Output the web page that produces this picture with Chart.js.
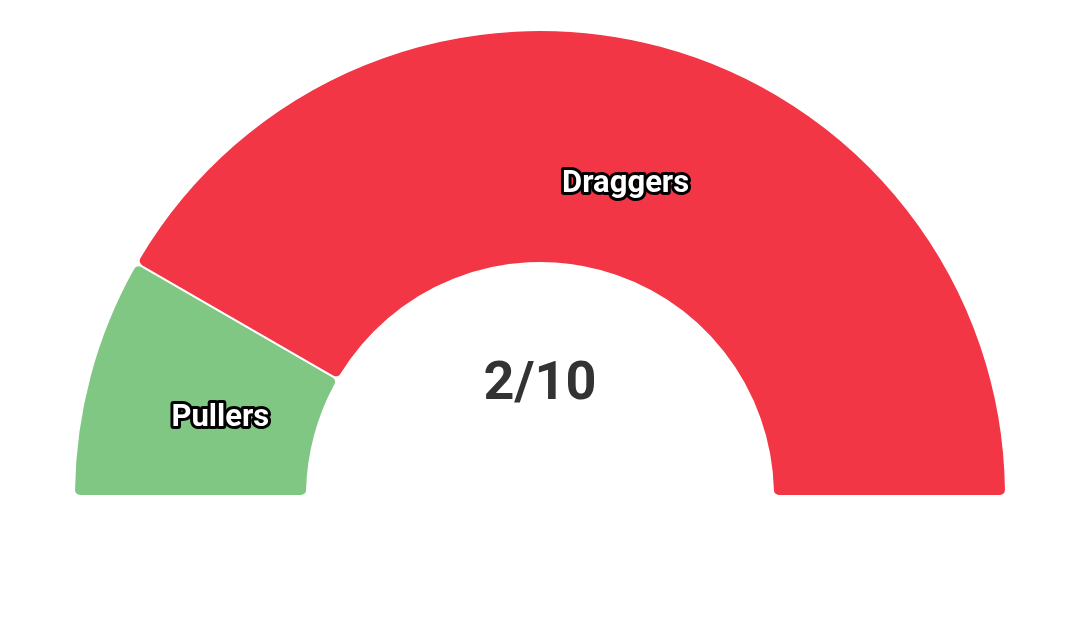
<!DOCTYPE html>
<html>
<head>
<meta charset="utf-8">
<script src="https://cdn.jsdelivr.net/npm/chart.js@4"></script>
<style>
  html, body { margin: 0; padding: 0; background: #fff; }
  #wrap { width: 1080px; height: 644px; }
</style>
</head>
<body>
<div id="wrap"><canvas id="gauge"></canvas></div>
<script>
const labels = ['Pullers', 'Draggers'];
const values = [2, 10];
const colors = ['#81C784', '#F23645'];
const centerText = '2/10';

// draws the slice names with a dark outline, plus the score in the middle
const gaugeText = {
  id: 'gaugeText',
  afterDatasetsDraw(chart) {
    const ctx = chart.ctx;
    const meta = chart.getDatasetMeta(0);
    ctx.save();
    ctx.textAlign = 'center';
    ctx.textBaseline = 'middle';
    ctx.font = 'bold 31px Roboto';
    ctx.lineJoin = 'round';
    meta.data.forEach((arc, i) => {
      const p = arc.getProps(['x', 'y', 'startAngle', 'endAngle', 'innerRadius', 'outerRadius'], true);
      const a = (p.startAngle + p.endAngle) / 2;
      const r = p.innerRadius + (p.outerRadius - p.innerRadius) * 0.42;
      const x = p.x + Math.cos(a) * r;
      const y = p.y + Math.sin(a) * r + 8;
      ctx.lineWidth = 6;
      ctx.strokeStyle = '#000';
      ctx.strokeText(labels[i], x, y);
      ctx.fillStyle = '#fff';
      ctx.fillText(labels[i], x, y);
    });
    const first = meta.data[0];
    ctx.font = 'bold 54px Roboto';
    ctx.fillStyle = '#333';
    ctx.fillText(centerText, first.x, first.y - 111);
    ctx.restore();
  }
};

new Chart(document.getElementById('gauge'), {
  type: 'doughnut',
  data: {
    labels: labels,
    datasets: [{
      data: values,
      backgroundColor: colors,
      borderColor: '#fff',
      borderWidth: 2,
      borderRadius: 6,
    }]
  },
  options: {
    responsive: true,
    maintainAspectRatio: false,
    animation: false,
    rotation: -90,
    circumference: 180,
    radius: 466,
    cutout: '50%',
    layout: { padding: { top: 0, bottom: 118 } },
    plugins: {
      legend: { display: false },
      tooltip: { enabled: false },
    },
  },
  plugins: [gaugeText]
});
</script>
</body>
</html>
